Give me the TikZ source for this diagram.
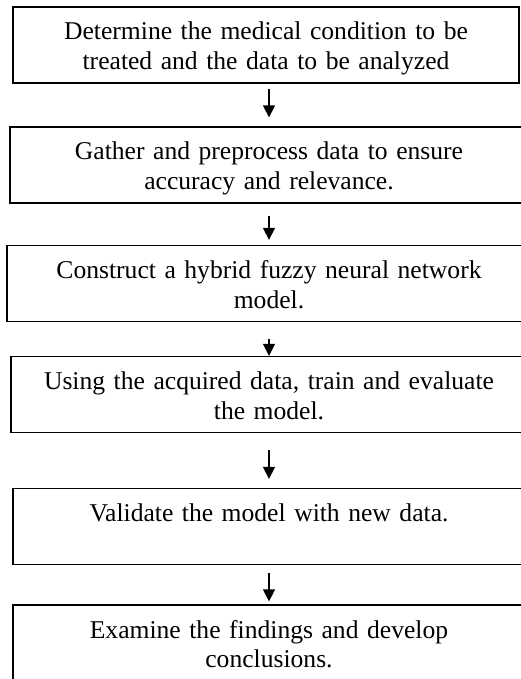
\documentclass[tikz,border=0pt]{standalone}
\usepackage{fontspec}
\setmainfont{Liberation Serif}
\usetikzlibrary{arrows.meta}

\tikzset{
  stepbox/.style={draw, rectangle, line width=1.3pt, inner xsep=0pt, inner ysep=0pt,
    align=center, text height=33pt, text depth=43pt,
    font=\fontsize{25.6}{29.5}\selectfont},
  flow/.style={line width=1.5pt, -{Triangle[width=12pt, length=12pt]}}
}

\begin{document}
\begin{tikzpicture}[x=1pt, y=-1pt]
                \useasboundingbox (0, 0) rectangle (520, 679);
                \coordinate (axis) at (269, 0);

                \node[stepbox, text width=506pt] (s_def) at (266, 45) {Determine the medical condition to be\\treated and the data to be analyzed};
                \node[stepbox, text width=518pt] (s_gat) at (269, 165) {Gather and preprocess data to ensure\\accuracy and relevance.};
                \node[stepbox, text width=524pt] (s_con) at (269, 283.5) {Construct a hybrid fuzzy neural network\\model.};
                \node[stepbox, text width=516pt] (s_trn) at (269, 394.5) {Using the acquired data, train and evaluate\\the model.};
                \node[stepbox, text width=512pt] (s_val) at (269, 526.5) {Validate the model with new data.};
                \node[stepbox, text width=512pt] (s_exa) at (269, 643) {Examine the findings and develop\\conclusions.};

                \draw[flow, shorten <=5pt, shorten >=9pt] (s_def.south -| axis) -- (s_gat.north -| axis);
                \draw[flow, shorten <=12pt, shorten >=5pt] (s_gat.south -| axis) -- (s_con.north -| axis);
                \draw[flow, shorten <=17pt, shorten >=0pt] (s_con.south -| axis) -- (s_trn.north -| axis);
                \draw[flow, shorten <=17pt, shorten >=9pt] (s_trn.south -| axis) -- (s_val.north -| axis);
                \draw[flow, shorten <=8pt, shorten >=3pt] (s_val.south -| axis) -- (s_exa.north -| axis);
\end{tikzpicture}
\end{document}
